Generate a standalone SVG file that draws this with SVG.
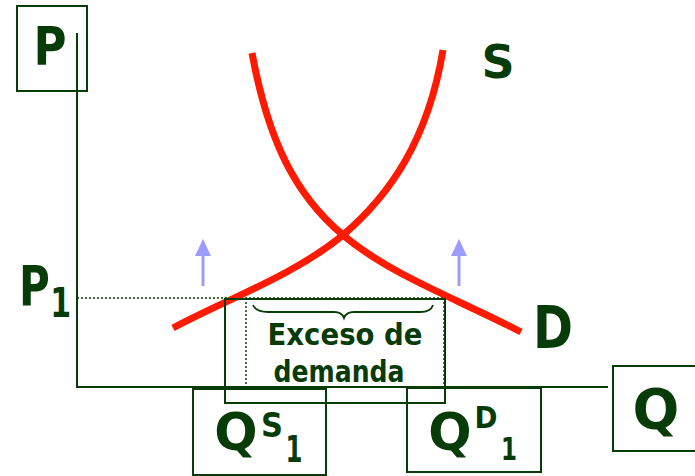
<svg xmlns="http://www.w3.org/2000/svg" width="695" height="476" viewBox="0 0 695 476">
<style>
.lbl{font-family:"DejaVu Sans","Liberation Sans",sans-serif;font-weight:bold;fill:#073b07;text-anchor:middle}
.box{fill:none;stroke:#073b07;stroke-width:2}
.axis{fill:none;stroke:#073b07;stroke-width:2}
.dot{fill:none;stroke:#073b07;stroke-width:1.5;stroke-dasharray:2,2}
.curve{fill:none;stroke:#ff1a00;stroke-width:7}
.up{stroke:#9c9cff;stroke-width:3;fill:none}
.head{fill:#9c9cff}
</style>
<rect width="695" height="476" fill="#ffffff"/>
<g id="axes">
<line class="axis" x1="77" y1="33" x2="77" y2="387"/>
<line class="axis" x1="76" y1="387" x2="608" y2="387"/>
</g>
<g id="connectors">
<line class="dot" x1="77" y1="298" x2="444" y2="298"/>
<line class="dot" x1="246" y1="298" x2="246" y2="387"/>
<line class="dot" x1="444" y1="298" x2="444" y2="387"/>
</g>
<g id="demand-curve">
<path class="curve" d="M252,53 C268,140 295,195 343,235 C390,275 460,300 521,332"/>
</g>
<g id="supply-curve">
<path class="curve" d="M173,328 C225,300 295,275 343,235 C390,195 428,140 443,50"/>
</g>
<g id="arrow-left">
<line class="up" x1="203" y1="286" x2="203" y2="252"/>
<polygon class="head" points="203,239 195,256 211,256"/>
</g>
<g id="arrow-right">
<line class="up" x1="459" y1="286" x2="459" y2="252"/>
<polygon class="head" points="459,239 451,256 467,256"/>
</g>
<g id="label-P">
<rect class="box" x="17" y="6" width="70" height="85"/>
<text class="lbl" x="50" y="65" font-size="54" textLength="33" lengthAdjust="spacingAndGlyphs">P</text>
</g>
<g id="label-S">
<text class="lbl" x="498" y="78" font-size="46">S</text>
</g>
<g id="label-D">
<text class="lbl" x="553" y="348" font-size="58" textLength="40" lengthAdjust="spacingAndGlyphs">D</text>
</g>
<g id="label-P1">
<text class="lbl" transform="scale(0.75,1)" style="text-anchor:start"><tspan x="25.3" y="305" font-size="56">P</tspan><tspan x="67" y="317" font-size="40">1</tspan></text>
</g>
<g id="label-Q">
<rect class="box" x="613" y="366" width="90" height="85"/>
<text class="lbl" x="656" y="428" font-size="55">Q</text>
</g>
<g id="label-QS1">
<rect class="box" x="193" y="389" width="133" height="86"/>
<text class="lbl" x="236" y="450" font-size="51">Q</text>
<text class="lbl" x="272" y="437" font-size="34" textLength="22" lengthAdjust="spacingAndGlyphs">S</text>
<text class="lbl" x="294" y="462" font-size="37" textLength="17" lengthAdjust="spacingAndGlyphs">1</text>
</g>
<g id="label-QD1">
<rect class="box" x="407" y="388" width="134" height="84"/>
<text class="lbl" x="450" y="450" font-size="51">Q</text>
<text class="lbl" x="486" y="428" font-size="31" textLength="23" lengthAdjust="spacingAndGlyphs">D</text>
<text class="lbl" x="509" y="460" font-size="32" textLength="16" lengthAdjust="spacingAndGlyphs">1</text>
</g>
<g id="excess">
<rect class="box" x="225" y="299" width="220" height="104"/>
<path d="M253,305 Q256,312 268,312 L334,312 Q342,312 344,318 Q346,312 354,312 L420,312 Q431,312 433,305" fill="none" stroke="#073b07" stroke-width="1.8"/>
<text class="lbl" x="345" y="345" font-size="31" textLength="155" lengthAdjust="spacingAndGlyphs">Exceso de</text>
<text class="lbl" x="339" y="382" font-size="31" textLength="131" lengthAdjust="spacingAndGlyphs">demanda</text>
</g>
</svg>
